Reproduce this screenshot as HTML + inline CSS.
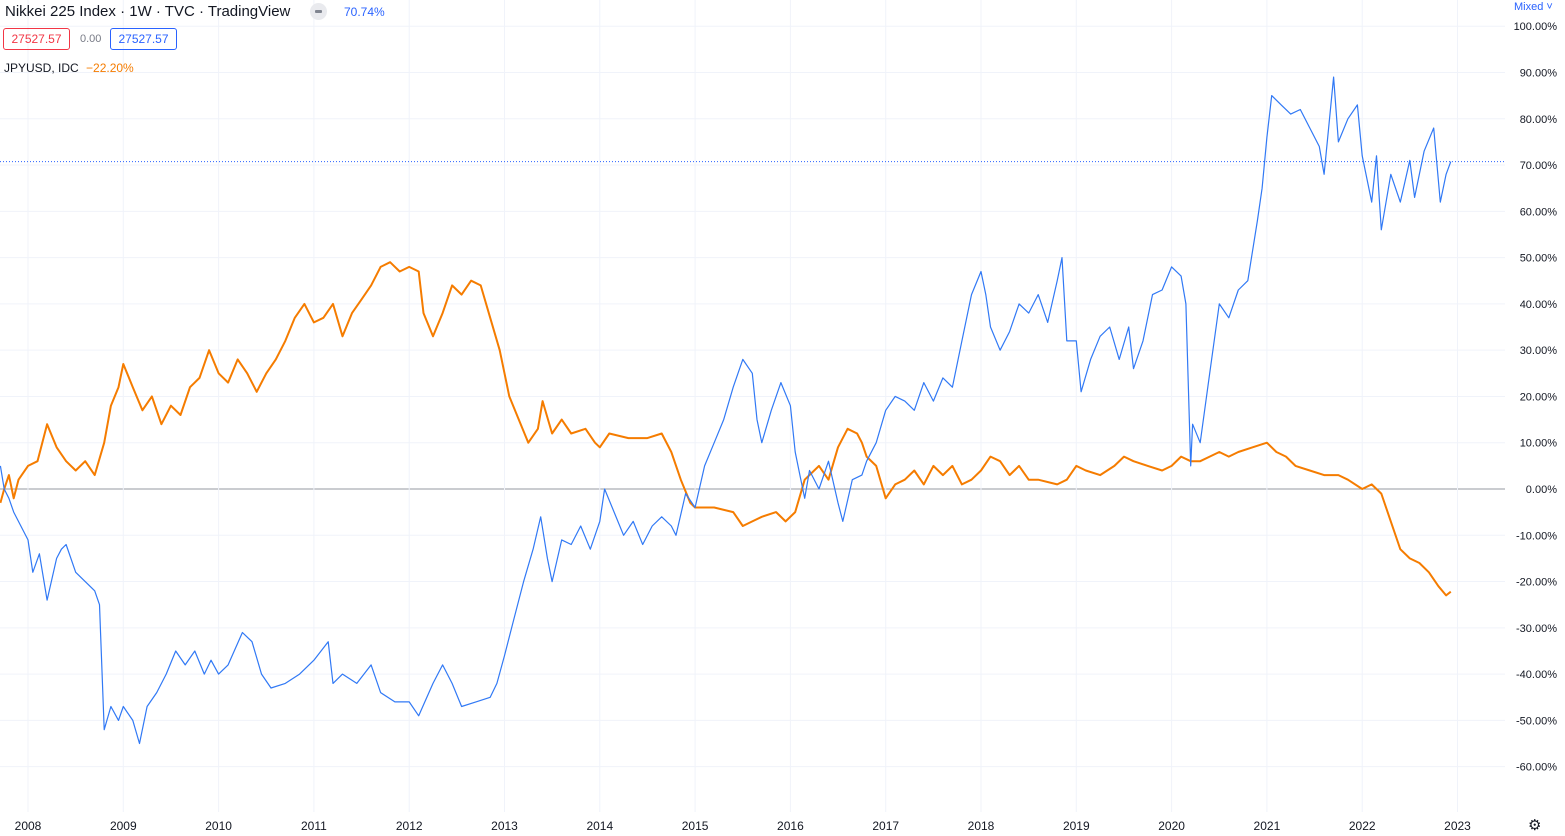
<!DOCTYPE html>
<html><head><meta charset="utf-8"><style>
body{margin:0;background:#fff;font-family:"Liberation Sans",sans-serif;}
#wrap{position:relative;width:1565px;height:836px;overflow:hidden;}
.t{position:absolute;white-space:nowrap;}
</style></head><body>
<div id="wrap">
<svg id="chart" width="1565" height="836" style="position:absolute;left:0;top:0"></svg>
<div class="t" style="left:5px;top:3px;font-size:15px;color:#131722">Nikkei 225 Index · 1W · TVC · TradingView</div>
<div class="t" style="left:310px;top:3px;width:17px;height:17px;border-radius:9px;background:#e9eaee"><div style="position:absolute;left:5px;top:7px;width:7px;height:3px;background:#808590;border-radius:1px"></div></div>
<div class="t" style="left:344px;top:5px;font-size:12px;color:#2962ff">70.74%</div>
<div class="t" style="left:3px;top:28px;width:65px;height:20px;border:1px solid #f23645;border-radius:3px;color:#f23645;font-size:12px;line-height:20px;text-align:center">27527.57</div>
<div class="t" style="left:80px;top:33px;font-size:11px;color:#787b86">0.00</div>
<div class="t" style="left:110px;top:28px;width:65px;height:20px;border:1px solid #2962ff;border-radius:3px;color:#2962ff;font-size:12px;line-height:20px;text-align:center">27527.57</div>
<div class="t" style="left:4px;top:61px;font-size:12px;color:#131722">JPYUSD, IDC <span style="color:#f57c00;margin-left:4px">−22.20%</span></div>
<div class="t" style="left:1514px;top:1px;font-size:11px;color:#2962ff">Mixed ˅</div>
<div class="t" style="left:1528px;top:816px;font-size:15px;color:#131722">⚙</div>
</div>
<script>
const yTicks=[100,90,80,70,60,50,40,30,20,10,0,-10,-20,-30,-40,-50,-60];
const xYears=[2008,2009,2010,2011,2012,2013,2014,2015,2016,2017,2018,2019,2020,2021,2022,2023];
const lastNikkei=70.74;
const nikkeiT=[2007.71,2007.75,2007.8,2007.85,2008.0,2008.05,2008.12,2008.2,2008.3,2008.35,2008.4,2008.5,2008.6,2008.7,2008.75,2008.8,2008.87,2008.95,2009.0,2009.1,2009.17,2009.25,2009.35,2009.45,2009.55,2009.65,2009.75,2009.85,2009.92,2010.0,2010.1,2010.25,2010.35,2010.45,2010.55,2010.7,2010.85,2011.0,2011.15,2011.2,2011.3,2011.45,2011.6,2011.7,2011.85,2012.0,2012.1,2012.25,2012.35,2012.45,2012.55,2012.7,2012.85,2012.92,2013.0,2013.1,2013.2,2013.3,2013.38,2013.45,2013.5,2013.6,2013.7,2013.8,2013.9,2014.0,2014.05,2014.15,2014.25,2014.35,2014.45,2014.55,2014.65,2014.75,2014.8,2014.9,2015.0,2015.1,2015.2,2015.3,2015.4,2015.45,2015.5,2015.6,2015.65,2015.7,2015.8,2015.9,2016.0,2016.05,2016.1,2016.15,2016.2,2016.3,2016.4,2016.5,2016.55,2016.65,2016.75,2016.8,2016.9,2017.0,2017.1,2017.2,2017.3,2017.4,2017.5,2017.6,2017.7,2017.8,2017.9,2018.0,2018.05,2018.1,2018.2,2018.3,2018.4,2018.5,2018.6,2018.7,2018.8,2018.85,2018.9,2019.0,2019.05,2019.15,2019.25,2019.35,2019.45,2019.55,2019.6,2019.7,2019.8,2019.9,2020.0,2020.1,2020.15,2020.2,2020.22,2020.3,2020.4,2020.5,2020.6,2020.7,2020.8,2020.9,2020.95,2021.0,2021.05,2021.15,2021.25,2021.35,2021.45,2021.55,2021.6,2021.7,2021.75,2021.85,2021.95,2022.0,2022.1,2022.15,2022.2,2022.3,2022.4,2022.5,2022.55,2022.65,2022.75,2022.82,2022.88,2022.93];
const nikkeiV=[5,0,-2,-5,-11,-18,-14,-24,-15,-13,-12,-18,-20,-22,-25,-52,-47,-50,-47,-50,-55,-47,-44,-40,-35,-38,-35,-40,-37,-40,-38,-31,-33,-40,-43,-42,-40,-37,-33,-42,-40,-42,-38,-44,-46,-46,-49,-42,-38,-42,-47,-46,-45,-42,-36,-28,-20,-13,-6,-15,-20,-11,-12,-8,-13,-7,0,-5,-10,-7,-12,-8,-6,-8,-10,-1,-4,5,10,15,22,25,28,25,15,10,17,23,18,8,3,-2,4,0,6,-3,-7,2,3,6,10,17,20,19,17,23,19,24,22,32,42,47,42,35,30,34,40,38,42,36,45,50,32,32,21,28,33,35,28,35,26,32,42,43,48,46,40,5,14,10,25,40,37,43,45,58,65,76,85,83,81,82,78,74,68,89,75,80,83,72,62,72,56,68,62,71,63,73,78,62,68,70.74];
const jpyT=[2007.71,2007.75,2007.8,2007.85,2007.9,2008.0,2008.1,2008.2,2008.3,2008.4,2008.5,2008.6,2008.7,2008.8,2008.87,2008.95,2009.0,2009.1,2009.2,2009.3,2009.4,2009.5,2009.6,2009.7,2009.8,2009.9,2010.0,2010.1,2010.2,2010.3,2010.4,2010.5,2010.6,2010.7,2010.8,2010.9,2011.0,2011.1,2011.2,2011.3,2011.4,2011.5,2011.6,2011.7,2011.8,2011.9,2012.0,2012.1,2012.15,2012.25,2012.35,2012.45,2012.55,2012.65,2012.75,2012.85,2012.95,2013.05,2013.15,2013.25,2013.35,2013.4,2013.5,2013.6,2013.7,2013.85,2013.95,2014.0,2014.1,2014.3,2014.5,2014.65,2014.75,2014.85,2014.95,2015.0,2015.2,2015.4,2015.5,2015.6,2015.7,2015.85,2015.95,2016.05,2016.15,2016.3,2016.4,2016.5,2016.6,2016.7,2016.75,2016.8,2016.9,2017.0,2017.1,2017.2,2017.3,2017.4,2017.5,2017.6,2017.7,2017.8,2017.9,2018.0,2018.1,2018.2,2018.3,2018.4,2018.5,2018.6,2018.8,2018.9,2019.0,2019.1,2019.25,2019.4,2019.5,2019.6,2019.75,2019.9,2020.0,2020.1,2020.2,2020.3,2020.4,2020.5,2020.6,2020.7,2020.85,2021.0,2021.1,2021.2,2021.3,2021.45,2021.6,2021.75,2021.85,2022.0,2022.1,2022.2,2022.3,2022.4,2022.5,2022.6,2022.7,2022.8,2022.88,2022.93];
const jpyV=[-3,0,3,-2,2,5,6,14,9,6,4,6,3,10,18,22,27,22,17,20,14,18,16,22,24,30,25,23,28,25,21,25,28,32,37,40,36,37,40,33,38,41,44,48,49,47,48,47,38,33,38,44,42,45,44,37,30,20,15,10,13,19,12,15,12,13,10,9,12,11,11,12,8,2,-3,-4,-4,-5,-8,-7,-6,-5,-7,-5,2,5,2,9,13,12,10,7,5,-2,1,2,4,1,5,3,5,1,2,4,7,6,3,5,2,2,1,2,5,4,3,5,7,6,5,4,5,7,6,6,7,8,7,8,9,10,8,7,5,4,3,3,2,0,1,-1,-7,-13,-15,-16,-18,-21,-23,-22.2];

const NS="http://www.w3.org/2000/svg";
const svg=document.getElementById('chart');
const PW=1505;
function xs(t){return 28+(t-2008)*95.3;}
function ys(p){return 489-p*4.628;}
function mk(tag,attrs){const e=document.createElementNS(NS,tag);for(const k in attrs)e.setAttribute(k,attrs[k]);svg.appendChild(e);return e;}
yTicks.forEach(v=>{
  const g=mk('line',{x1:0,x2:PW,y1:ys(v),y2:ys(v),stroke:v===0?'#9598a1':'#f0f3fa','stroke-width':1});
  
  
  const t=mk('text',{x:1557,y:ys(v)+4,'text-anchor':'end','font-size':11,fill:'#131722','font-family':'Liberation Sans, sans-serif'});
  t.textContent=v.toFixed(2)+'%';
  
  
});
xYears.forEach(y=>{
  const g=mk('line',{x1:xs(y),x2:xs(y),y1:0,y2:812,stroke:'#f0f3fa','stroke-width':1});
  
  
  const t=mk('text',{x:xs(y),y:830,'text-anchor':'middle','font-size':12,fill:'#131722','font-family':'Liberation Sans, sans-serif'});
  t.textContent=String(y);
  
  
});
const pl=mk('line',{x1:0,x2:PW,y1:ys(lastNikkei),y2:ys(lastNikkei),stroke:'#2962ff','stroke-width':1,'stroke-dasharray':'1,2'});


function line(T,V,color,w,name){
  const d=T.map((t,i)=>(i?'L':'M')+xs(t).toFixed(1)+','+ys(V[i]).toFixed(1)).join('');
  const p=mk('path',{d:d,fill:'none',stroke:color,'stroke-width':w,'stroke-linejoin':'round'});
  
  
}
line(jpyT,jpyV,'#f57c00',2,'jpyusd-line');
line(nikkeiT,nikkeiV,'#3179f5',1.2,'nikkei-line');
</script>
</body></html>
